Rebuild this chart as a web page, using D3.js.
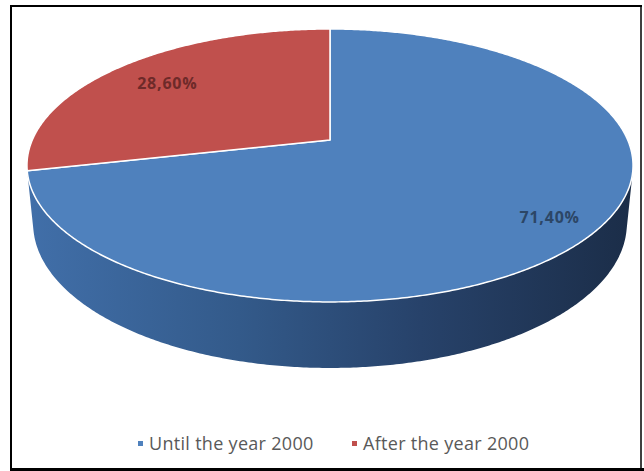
<!DOCTYPE html>
<html>
<head>
<meta charset="utf-8">
<script src="https://cdn.jsdelivr.net/npm/d3@7"></script>
<style>
  html, body { margin: 0; padding: 0; background: #fff; }
  svg { display: block; }
</style>
</head>
<body>
<svg id="chart" width="644" height="471"></svg>
<script>
// Share of items by period
const categories = ["Until the year 2000", "After the year 2000"];
const shares = [71.4, 28.6];
const valueLabels = ["71,40%", "28,60%"];
const colors = ["#4f81bd", "#c0504d"];
const labelColors = ["#2c4666", "#6e2a29"];

const svg = d3.select("#chart");

// --- 3D perspective setup for a tilted disc ---
const cx = 330, cy = 140;          // projected centre of the top face
const R = 1, D = 4.81, f = 1432;   // radius, camera distance, focal length
const tilt = Math.asin(0.4425);    // camera elevation
const thick = 0.2184;              // disc thickness
const sinT = Math.sin(tilt), cosT = Math.cos(tilt);

function project(theta, r, z) {
  const X = r * Math.sin(theta), Y = r * Math.cos(theta), Z = z;
  const depth = D + Y * cosT - Z * sinT;
  return [cx + f * X / depth, cy - f * (Y * sinT + Z * cosT) / depth];
}

function arcPoints(a0, a1, r, z) {
  const n = Math.max(2, Math.ceil(Math.abs(a1 - a0) / (Math.PI / 360)));
  const pts = [];
  for (let i = 0; i <= n; i++) pts.push(project(a0 + (a1 - a0) * i / n, r, z));
  return pts;
}

const pie = d3.pie().sort(null).value(d => d).startAngle(0).endAngle(2 * Math.PI);
const arcs = pie(shares);
const line = d3.line();

// side shading
const defs = svg.append("defs");
const grad = defs.append("linearGradient")
  .attr("id", "sideGrad").attr("gradientUnits", "userSpaceOnUse")
  .attr("x1", 27).attr("x2", 633).attr("y1", 0).attr("y2", 0);
[["0%", "#416fa9"], ["35%", "#335a8a"], ["65%", "#27426a"], ["100%", "#1b2d48"]]
  .forEach(([o, c]) => grad.append("stop").attr("offset", o).attr("stop-color", c));

// visible part of the cylinder wall
const edge = Math.acos(-R / (D * cosT));
const wallStart = edge, wallEnd = 2 * Math.PI - edge;
arcs.forEach((a, i) => {
  const s = Math.max(a.startAngle, wallStart), e = Math.min(a.endAngle, wallEnd);
  if (e <= s) return;
  const top = arcPoints(s, e, R, 0);
  const bottom = arcPoints(e, s, R, -thick);
  svg.append("path")
    .attr("d", line(top.concat(bottom)) + "Z")
    .attr("fill", i === 0 ? "url(#sideGrad)" : d3.color(colors[i]).darker(1));
});

// top face slices
arcs.forEach((a, i) => {
  const pts = [project(0, 0, 0)].concat(arcPoints(a.startAngle, a.endAngle, R, 0));
  svg.append("path")
    .attr("d", line(pts) + "Z")
    .attr("fill", colors[i])
    .attr("stroke", "#ffffff")
    .attr("stroke-width", 1.5)
    .attr("stroke-linejoin", "round");
});

// value labels
const labelRadius = [0.85, 0.76];
arcs.forEach((a, i) => {
  const mid = (a.startAngle + a.endAngle) / 2;
  const [x, y] = project(mid, labelRadius[i], 0);
  svg.append("text")
    .attr("x", x).attr("y", y)
    .attr("text-anchor", "middle").attr("dominant-baseline", "central")
    .attr("font-family", "'Open Sans', sans-serif")
    .attr("font-weight", "bold").attr("font-size", 16)
    .attr("letter-spacing", 0.8)
    .attr("fill", labelColors[i])
    .text(valueLabels[i]);
});

// legend
const legendX = [138, 352];
categories.forEach((c, i) => {
  svg.append("rect")
    .attr("x", legendX[i]).attr("y", 441).attr("width", 5).attr("height", 5)
    .attr("fill", colors[i]);
  svg.append("text")
    .attr("x", legendX[i] + 11).attr("y", 450)
    .attr("font-family", "'Open Sans', sans-serif")
    .attr("font-size", 18).attr("letter-spacing", 0.3).attr("fill", "#595959")
    .text(c);
});

// frame
svg.append("line").attr("x1", 11).attr("x2", 11).attr("y1", 5).attr("y2", 471)
  .attr("stroke", "#000").attr("stroke-width", 2);
svg.append("line").attr("x1", 10).attr("x2", 642).attr("y1", 6).attr("y2", 6)
  .attr("stroke", "#000").attr("stroke-width", 2);
svg.append("line").attr("x1", 641).attr("x2", 641).attr("y1", 5).attr("y2", 471)
  .attr("stroke", "#000").attr("stroke-width", 1.5);
svg.append("line").attr("x1", 10).attr("x2", 644).attr("y1", 469.5).attr("y2", 469.5)
  .attr("stroke", "#000").attr("stroke-width", 3);
</script>
</body>
</html>
